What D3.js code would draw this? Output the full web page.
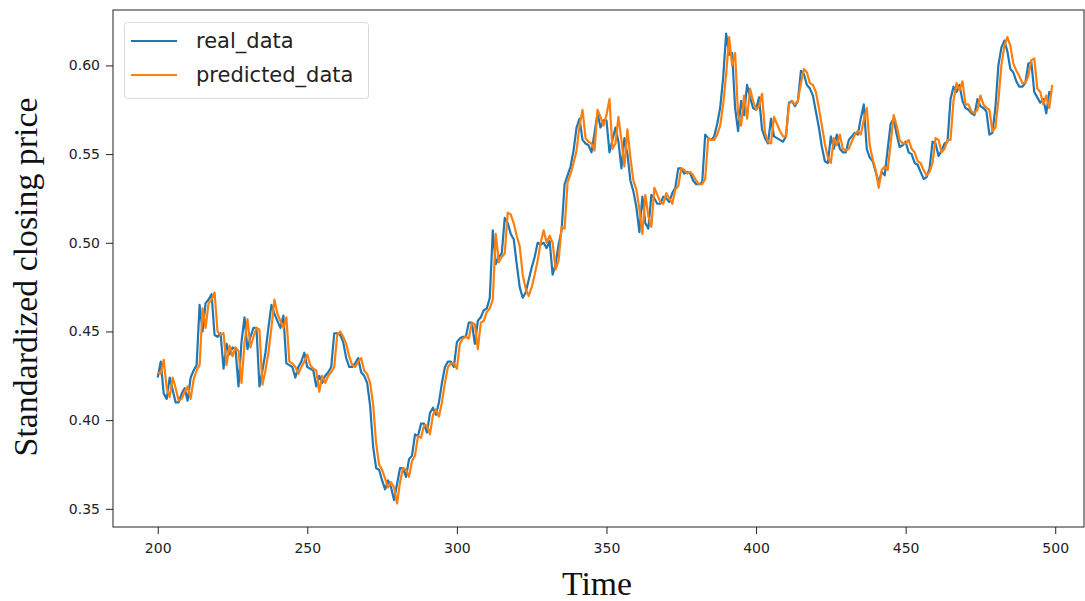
<!DOCTYPE html>
<html>
<head>
<meta charset="utf-8">
<script src="https://cdn.jsdelivr.net/npm/d3@7"></script>
<style>
  body{margin:0;background:#fff;}
  svg{display:block;}
</style>
</head>
<body>
<svg id="chart" width="1085" height="601"></svg>
<script>
// x axis: time steps 200..499
var startTime = 200;
var xTicks = [200,250,300,350,400,450,500];
var yTicks = [0.35,0.40,0.45,0.50,0.55,0.60];
var seriesNames = ['real_data','predicted_data'];
var seriesColors = ['#1f77b4','#ff7f0e'];

// real closing price (standardized)
var realData = [
  .424,.433,.415,.412,.424,.417,.410,.410,.415,.418,
  .411,.424,.428,.431,.465,.450,.466,.468,.471,.448,
  .447,.449,.429,.443,.437,.441,.440,.419,.444,.458,
  .440,.447,.452,.452,.419,.428,.438,.452,.465,.460,
  .456,.452,.459,.432,.431,.430,.424,.430,.433,.438,
  .430,.429,.428,.419,.425,.421,.425,.427,.430,.449,
  .449,.448,.444,.435,.430,.430,.432,.435,.427,.425,
  .421,.408,.385,.373,.372,.366,.361,.366,.362,.355,
  .364,.373,.373,.368,.378,.380,.392,.391,.398,.398,
  .393,.404,.407,.403,.410,.421,.430,.433,.433,.430,
  .444,.446,.447,.447,.455,.455,.443,.456,.458,.462,
  .463,.469,.507,.488,.492,.494,.514,.511,.505,.502,
  .488,.475,.469,.472,.479,.486,.492,.500,.499,.500,
  .497,.501,.482,.488,.499,.507,.533,.538,.543,.552,
  .565,.570,.558,.556,.555,.551,.562,.573,.565,.569,
  .569,.551,.558,.565,.557,.542,.559,.550,.535,.529,
  .520,.506,.526,.511,.508,.527,.525,.522,.522,.526,
  .525,.523,.528,.531,.542,.542,.539,.540,.539,.535,
  .533,.533,.534,.561,.559,.558,.560,.567,.576,.593,
  .618,.606,.607,.576,.563,.580,.572,.589,.582,.576,
  .575,.582,.564,.559,.556,.570,.560,.559,.558,.557,
  .560,.579,.580,.577,.580,.597,.595,.589,.587,.583,
  .574,.565,.554,.546,.545,.560,.553,.561,.553,.551,
  .551,.558,.560,.562,.561,.570,.578,.553,.548,.546,
  .540,.534,.540,.538,.553,.567,.570,.561,.554,.555,
  .557,.551,.550,.545,.544,.540,.536,.537,.542,.557,
  .556,.549,.552,.556,.557,.581,.588,.585,.589,.580,
  .576,.575,.573,.572,.581,.577,.576,.574,.561,.562,
  .576,.600,.610,.614,.608,.598,.596,.591,.588,.588,
  .590,.601,.602,.585,.582,.579,.581,.573,.585,.585
];

// model output
var predictedData = [
  .427,.426,.434,.418,.413,.424,.418,.411,.412,.416,
  .419,.412,.423,.428,.431,.463,.452,.466,.468,.472,
  .450,.448,.449,.431,.442,.436,.441,.439,.421,.443,
  .457,.441,.447,.452,.451,.420,.428,.438,.452,.468,
  .460,.456,.452,.458,.433,.432,.430,.426,.430,.433,
  .437,.431,.429,.428,.416,.425,.421,.425,.427,.430,
  .448,.450,.447,.443,.436,.431,.430,.433,.435,.428,
  .426,.421,.409,.387,.375,.372,.367,.362,.365,.362,
  .353,.365,.373,.372,.368,.377,.380,.391,.390,.397,
  .397,.392,.403,.406,.402,.410,.421,.430,.432,.432,
  .429,.443,.446,.447,.446,.455,.454,.440,.455,.456,
  .461,.463,.468,.505,.489,.492,.494,.517,.516,.511,
  .504,.498,.482,.474,.470,.475,.482,.490,.500,.507,
  .500,.504,.500,.485,.490,.509,.508,.534,.539,.545,
  .552,.566,.575,.559,.557,.556,.552,.575,.571,.566,
  .572,.581,.553,.556,.571,.558,.543,.564,.548,.535,
  .530,.519,.505,.527,.515,.509,.531,.527,.523,.522,
  .528,.525,.522,.530,.532,.542,.541,.539,.540,.538,
  .535,.533,.533,.536,.559,.558,.558,.561,.566,.578,
  .595,.616,.600,.607,.572,.566,.583,.570,.587,.580,
  .575,.577,.584,.562,.557,.556,.571,.567,.563,.560,
  .560,.578,.580,.578,.580,.590,.598,.596,.590,.589,
  .585,.576,.566,.556,.548,.545,.559,.555,.561,.553,
  .552,.553,.557,.561,.563,.561,.569,.576,.555,.547,
  .541,.531,.541,.543,.541,.556,.572,.566,.558,.556,
  .556,.558,.553,.551,.546,.545,.541,.538,.540,.545,
  .559,.558,.551,.553,.558,.558,.580,.590,.586,.591,
  .578,.578,.574,.573,.575,.583,.578,.576,.575,.563,
  .565,.580,.600,.611,.616,.611,.601,.597,.594,.590,
  .590,.594,.603,.604,.587,.585,.578,.583,.576,.589
];

var svg = d3.select('#chart');
var plotL = 113, plotR = 1084, plotT = 10, plotB = 527;

// matplotlib style 5% margins around the data
var n = realData.length;
var xPad = (n - 1) * 0.05;
var pxPerStep = (1055.5 - 158) / 300;
var x = d3.scaleLinear()
    .domain([startTime - xPad, startTime + n - 1 + xPad])
    .range([plotL, plotL + pxPerStep * (n - 1 + 2 * xPad)]);
var allVals = realData.concat(predictedData);
var yMin = d3.min(allVals), yMax = d3.max(allVals);
var yPad = (yMax - yMin) * 0.05;
var y = d3.scaleLinear().domain([yMin - yPad, yMax + yPad]).range([plotB, plotT]);

svg.append('clipPath').attr('id','plotClip')
    .append('rect').attr('x',plotL).attr('y',plotT)
    .attr('width',plotR-plotL).attr('height',plotB-plotT);

// axes
var xAxis = svg.append('g').attr('transform','translate(0,'+plotB+')')
    .call(d3.axisBottom(x).tickValues(xTicks).tickSize(7).tickPadding(6).tickFormat(d3.format('d')));
var yAxis = svg.append('g').attr('transform','translate('+plotL+',0)')
    .call(d3.axisLeft(y).tickValues(yTicks).tickSize(7).tickPadding(6).tickFormat(d3.format('.2f')));
[xAxis,yAxis].forEach(function(a){
    a.select('.domain').remove();
    a.selectAll('line').attr('stroke','#222').attr('stroke-width',1);
    a.selectAll('text').attr('fill','#222')
        .style('font-family','"DejaVu Sans", sans-serif').style('font-size','14px');
});
xAxis.selectAll('text').attr('dy','0.9em');

// lines
var line = d3.line()
    .x(function(d,i){ return x(startTime + i); })
    .y(function(d){ return y(d); });
var plot = svg.append('g').attr('clip-path','url(#plotClip)');
[realData,predictedData].forEach(function(s,k){
    plot.append('path').datum(s)
        .attr('d',line)
        .attr('fill','none')
        .attr('stroke',seriesColors[k])
        .attr('stroke-width',2.2)
        .attr('stroke-linejoin','round');
});

// frame
svg.append('rect')
    .attr('x',plotL).attr('y',plotT)
    .attr('width',plotR-plotL).attr('height',plotB-plotT)
    .attr('fill','none').attr('stroke','#222').attr('stroke-width',1);

// legend
var legend = svg.append('g');
legend.append('rect')
    .attr('x',124.5).attr('y',22.5).attr('width',244).attr('height',76)
    .attr('rx',3).attr('ry',3)
    .attr('fill','#fff').attr('fill-opacity',0.8)
    .attr('stroke','#d9d9d9').attr('stroke-width',1);
seriesNames.forEach(function(name,k){
    var ly = 41 + k * 34;
    legend.append('line')
        .attr('x1',131).attr('x2',177).attr('y1',ly).attr('y2',ly)
        .attr('stroke',seriesColors[k]).attr('stroke-width',2.2);
    legend.append('text')
        .attr('x',196).attr('y',ly).attr('dy','0.35em')
        .attr('fill','#222')
        .style('font-family','"DejaVu Sans", sans-serif').style('font-size','21px')
        .text(name);
});

// axis titles in a serif face, sized to fill the same width as the reference
function fitText(t, width){
    t.style('font-size','100px');
    var w = t.node().getComputedTextLength();
    t.style('font-size',(100 * width / w) + 'px');
}
var xTitle = svg.append('text')
    .attr('x',597).attr('y',595).attr('text-anchor','middle')
    .attr('fill','#111')
    .style('font-family','"Liberation Serif", "DejaVu Serif", serif')
    .text('Time');
fitText(xTitle, 70);
var yTitle = svg.append('text')
    .attr('transform','translate(37,277) rotate(-90)')
    .attr('text-anchor','middle')
    .attr('fill','#111')
    .style('font-family','"Liberation Serif", "DejaVu Serif", serif')
    .text('Standardized closing price');
fitText(yTitle, 359);
</script>
</body>
</html>
